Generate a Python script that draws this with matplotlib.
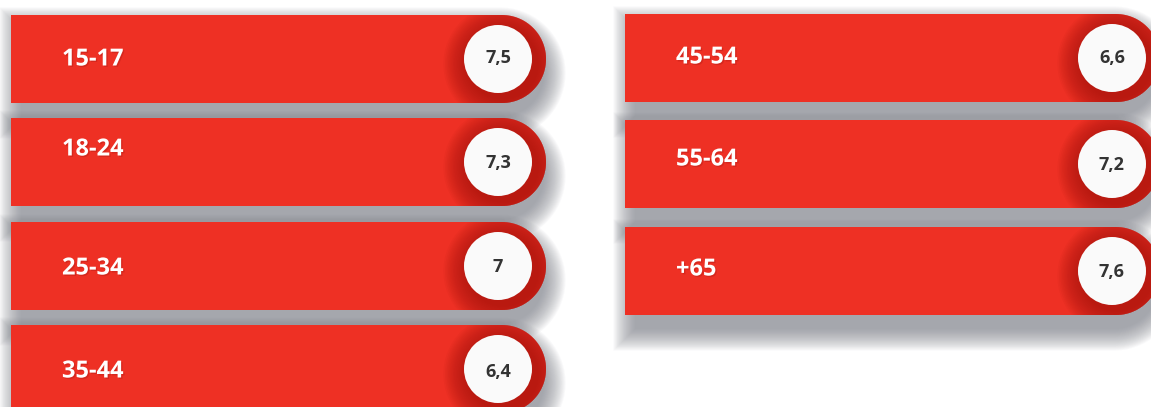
import numpy as np
import matplotlib
matplotlib.use("Agg")
import matplotlib.pyplot as plt
from matplotlib.patches import Polygon, Circle
import matplotlib.patheffects as pe

# ---- data ----
categories = ["15-17", "18-24", "25-34", "35-44", "45-54", "55-64", "+65"]
values = [7.5, 7.3, 7.0, 6.4, 6.6, 7.2, 7.6]
value_labels = ["7,5", "7,3", "7", "6,4", "6,6", "7,2", "7,6"]

# ---- layout (pixels) ----
W, H = 1151, 407
col_x0 = [11, 625]
col_x1 = [546, 1160]
rows_top = [[15, 118, 222, 325], [14, 120, 227]]
bar_h = 88
circle_dx = 48
circle_r = 34
label_dy = [0.5, -12.5, 2.5, 2.5, -0.5, -4.5, -1.5]
value_dy = [-1, 1, 1, 3, 0, 1, 1]

RED = "#ee3024"
DARK = "#a8150f"

fig = plt.figure(figsize=(W / 100, H / 100), dpi=100)
ax = fig.add_axes([0, 0, 1, 1])
ax.set_xlim(0, W)
ax.set_ylim(H, 0)
ax.axis("off")
fig.patch.set_facecolor("white")


def bar_shape(x0, x1, top, h, grow=0.0, dy=0.0):
    r = h / 2 + grow
    cy = top + h / 2 + dy
    t = np.linspace(-np.pi / 2, np.pi / 2, 60)
    arc = np.column_stack([x1 - h / 2 + r * np.cos(t), cy + r * np.sin(t)])
    return np.vstack([[x0 - grow, cy - r], arc, [x0 - grow, cy + r]])


# soft drop shadows
for c, tops in enumerate(rows_top):
    for top in tops:
        x0, x1 = col_x0[c], col_x1[c]
        for k in range(24, -1, -1):
            sh = bar_shape(x0 + 10, x1 - 2, top, bar_h, grow=k * 0.9, dy=14)
            ax.add_patch(Polygon(sh, closed=True, facecolor="#7c7f88",
                                 edgecolor="none", alpha=0.04, zorder=1))

idx = 0
for c, tops in enumerate(rows_top):
    for top in tops:
        x0, x1 = col_x0[c], col_x1[c]
        pts = bar_shape(x0, x1, top, bar_h)
        ax.add_patch(Polygon(pts, closed=True, facecolor=RED,
                             edgecolor="none", zorder=2))
        cx = x1 - circle_dx
        cy = top + bar_h / 2
        # darker gradient around the circle
        clip = Polygon(pts, closed=True, transform=ax.transData)
        for k in range(16, 0, -1):
            rr = circle_r + k * 1.6
            p = ax.add_patch(Circle((cx + 5, cy + 5), rr, facecolor=DARK,
                                    edgecolor="none", alpha=0.07, zorder=3))
            p.set_clip_path(clip)
        ax.add_patch(Circle((cx, cy), circle_r, facecolor="#fafafa",
                            edgecolor="none", zorder=4))
        ax.text(cx, cy + value_dy[idx], value_labels[idx], ha="center",
                va="center", fontsize=13, fontweight="bold",
                family="Open Sans", color="#333333", zorder=5)
        ax.text(x0 + 51, cy + label_dy[idx], categories[idx], ha="left",
                va="center", fontsize=17, fontweight="bold",
                family="Open Sans", color="white", zorder=5,
                path_effects=[pe.withSimplePatchShadow(offset=(1, -1),
                                                       shadow_rgbFace="#a01510",
                                                       alpha=0.3)])
        idx += 1

fig.savefig("out.png", dpi=100, facecolor="white")
